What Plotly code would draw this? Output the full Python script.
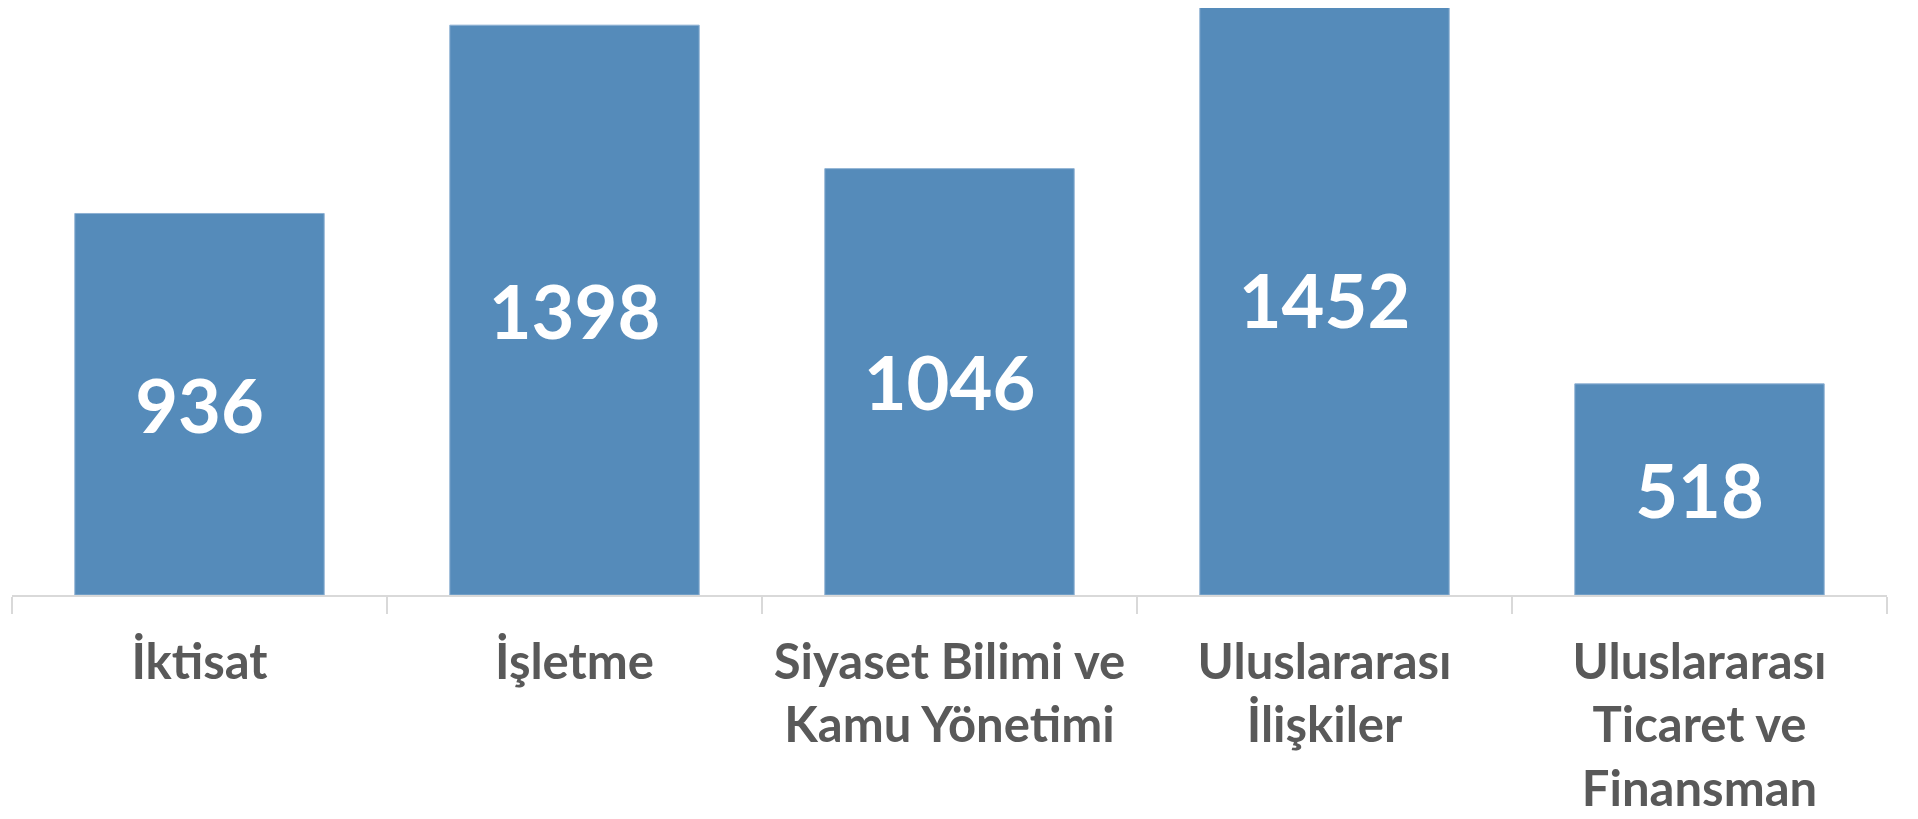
import plotly.graph_objects as go

categories = [
    "İktisat",
    "İşletme",
    "Siyaset Bilimi ve<br>Kamu Yönetimi",
    "Uluslararası<br>İlişkiler",
    "Uluslararası<br>Ticaret ve<br>Finansman",
]
values = [936, 1398, 1046, 1452, 518]
labels = [str(v) for v in values]

fig = go.Figure(
    go.Bar(
        x=categories,
        y=values,
        text=labels,
        textposition="inside",
        insidetextanchor="middle",
        constraintext="none",
        textfont=dict(family="Lato", size=74, color="white", weight="bold"),
        marker=dict(color="#558BBA", line=dict(color="#8DB0D3", width=1)),
        hoverinfo="skip",
    )
)

fig.update_layout(
    width=1918,
    height=819,
    margin=dict(l=4.3, r=39.3, t=0, b=232.3),
    paper_bgcolor="white",
    plot_bgcolor="white",
    bargap=0.335,
    showlegend=False,
    font=dict(family="Lato", color="#595959"),
)
fig.update_xaxes(
    type="category",
    showline=True,
    linecolor="#D9D9D9",
    linewidth=1.5,
    ticks="outside",
    tickson="boundaries",
    ticklen=17,
    tickcolor="#D9D9D9",
    tickwidth=1.5,
    ticklabelstandoff=23,
    tickfont=dict(family="Lato", size=49, color="#595959", weight="bold"),
    showgrid=False,
    zeroline=False,
)
fig.update_yaxes(
    range=[0, 1440.1],
    visible=False,
    showgrid=False,
    zeroline=False,
)

fig.write_html("out.html")
